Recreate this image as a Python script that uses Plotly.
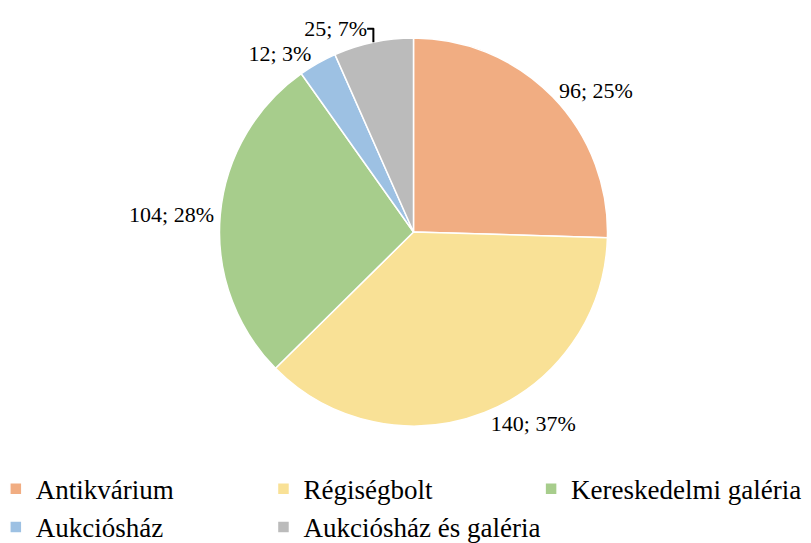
import plotly.graph_objects as go

categories = ["Antikvárium", "Régiségbolt", "Kereskedelmi galéria", "Aukciósház", "Aukciósház és galéria"]
values = [96, 140, 104, 12, 25]
colors = ["#F1AD82", "#F9E196", "#A7CD8C", "#9DC1E3", "#BBBBBB"]

SERIF = "Liberation Serif"

fig = go.Figure(go.Pie(
    labels=categories,
    values=values,
    sort=False,
    direction="clockwise",
    rotation=0,
    marker=dict(colors=colors, line=dict(color="white", width=1.5)),
    texttemplate="%{value}; %{percent:.0%}",
    textposition="outside",
    textfont=dict(family=SERIF, size=22, color="black"),
    hoverinfo="label+value+percent",
))

fig.update_layout(
    width=811, height=543,
    paper_bgcolor="white", plot_bgcolor="white",
    margin=dict(l=0, r=0, t=30, b=125, autoexpand=False),
    font=dict(family=SERIF, color="black"),
    legend=dict(
        orientation="h",
        x=-0.015, xanchor="left",
        y=-0.1, yanchor="top",
        font=dict(size=27, family=SERIF, color="black"),
        entrywidth=0.33, entrywidthmode="fraction",
        itemclick=False, itemdoubleclick=False,
        tracegroupgap=0,
    ),
)

fig.write_html("out.html")
